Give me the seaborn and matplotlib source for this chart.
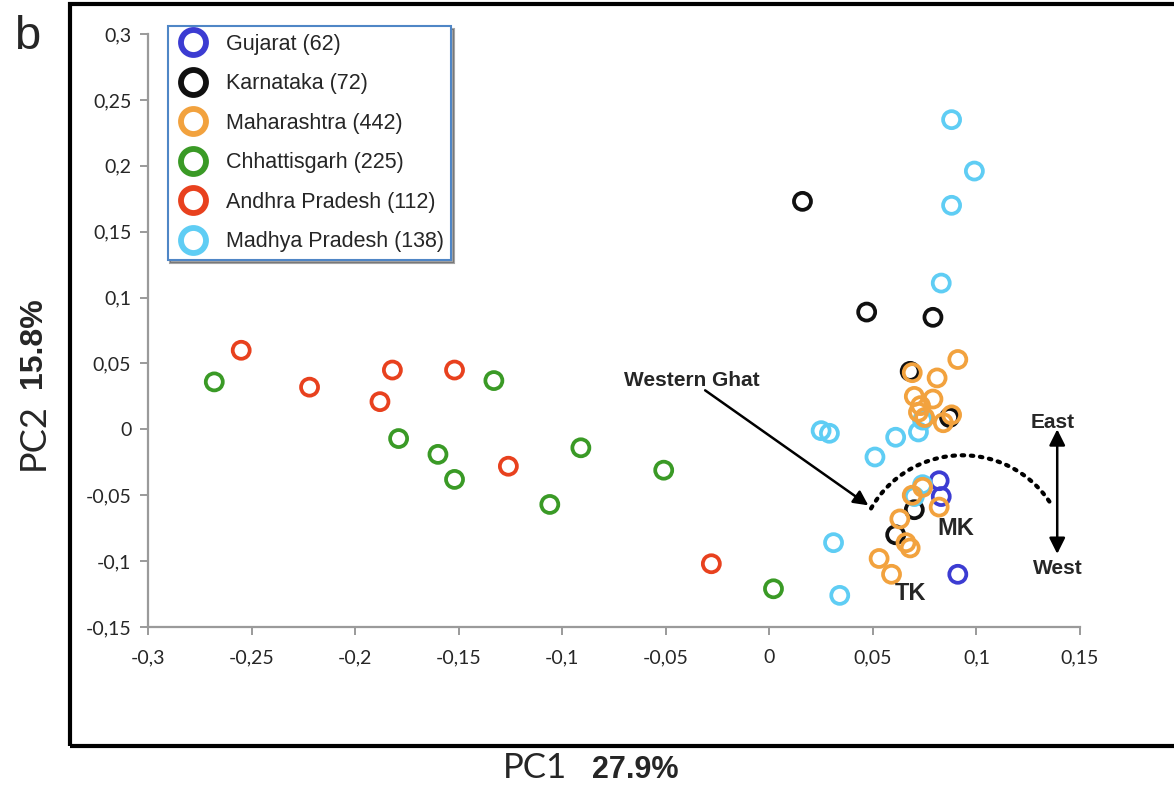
import numpy as np
import pandas as pd
import matplotlib
matplotlib.use("Agg")
import matplotlib.pyplot as plt
import seaborn as sns
from matplotlib.lines import Line2D
from matplotlib.patches import Rectangle
from matplotlib.ticker import FuncFormatter

# values (PC1, PC2 per state)
gujarat_pc1 = [0.082, 0.083, 0.091]
gujarat_pc2 = [-0.039, -0.051, -0.110]

karnataka_pc1 = [0.016, 0.047, 0.079, 0.068, 0.087, 0.070, 0.061]
karnataka_pc2 = [0.173, 0.089, 0.085, 0.044, 0.009, -0.061, -0.080]

madhya_pc1 = [0.088, 0.099, 0.088, 0.083, 0.025, 0.029, 0.061, 0.072, 0.051, 0.074, 0.070, 0.031, 0.034, 0.074]
madhya_pc2 = [0.235, 0.196, 0.170, 0.111, -0.001, -0.003, -0.006, -0.002, -0.021, -0.042, -0.051, -0.086, -0.126, 0.007]

chhattisgarh_pc1 = [-0.268, -0.133, -0.179, -0.160, -0.152, -0.091, -0.106, -0.051, 0.002]
chhattisgarh_pc2 = [0.036, 0.037, -0.007, -0.019, -0.038, -0.014, -0.057, -0.031, -0.121]

andhra_pc1 = [-0.255, -0.222, -0.182, -0.152, -0.188, -0.126, -0.028]
andhra_pc2 = [0.060, 0.032, 0.045, 0.045, 0.021, -0.028, -0.102]

maharashtra_pc1 = [0.091, 0.069, 0.081, 0.070, 0.079, 0.073, 0.072, 0.075, 0.088, 0.084,
                   0.074, 0.069, 0.082, 0.063, 0.066, 0.068, 0.053, 0.059]
maharashtra_pc2 = [0.053, 0.043, 0.039, 0.025, 0.023, 0.018, 0.013, 0.009, 0.011, 0.005,
                   -0.044, -0.050, -0.059, -0.068, -0.086, -0.090, -0.098, -0.110]

states = ["Gujarat", "Karnataka", "Maharashtra", "Chhattisgarh", "Andhra Pradesh", "Madhya Pradesh"]
counts = [62, 72, 442, 225, 112, 138]
colors = ["#3c3cd2", "#101010", "#f2a23e", "#3a9a26", "#e8411e", "#5fcdf4"]

# drawing order: later rows on top
parts = [("Gujarat", gujarat_pc1, gujarat_pc2),
         ("Karnataka", karnataka_pc1, karnataka_pc2),
         ("Madhya Pradesh", madhya_pc1, madhya_pc2),
         ("Chhattisgarh", chhattisgarh_pc1, chhattisgarh_pc2),
         ("Andhra Pradesh", andhra_pc1, andhra_pc2),
         ("Maharashtra", maharashtra_pc1, maharashtra_pc2)]
df = pd.concat([pd.DataFrame({"PC1": x, "PC2": y, "state": s}) for s, x, y in parts], ignore_index=True)

sns.set_style("white")
plt.rcParams["font.family"] = ["Liberation Sans", "DejaVu Sans"]

W, H = 1174, 785
fig = plt.figure(figsize=(W / 100, H / 100), dpi=100)
ax = fig.add_axes([148 / W, 1 - 627 / H, (1080 - 148) / W, (627 - 34) / H])

sns.scatterplot(data=df, x="PC1", y="PC2", hue="state", hue_order=states,
                palette=dict(zip(states, colors)), s=150, linewidth=2.7, legend=False, ax=ax)
coll = ax.collections[0]
coll.set_edgecolors(coll.get_facecolors().copy())
coll.set_facecolor("none")

ax.set_xlim(-0.3, 0.15)
ax.set_ylim(-0.15, 0.3)
ax.set_xticks(np.arange(-0.3, 0.151, 0.05))
ax.set_yticks(np.arange(-0.15, 0.301, 0.05))
fmt = FuncFormatter(lambda v, p: ("%g" % round(v, 3)).replace(".", ",") if abs(v) > 1e-9 else "0")
ax.xaxis.set_major_formatter(fmt)
ax.yaxis.set_major_formatter(fmt)
for s in ["top", "right"]:
    ax.spines[s].set_visible(False)
for s in ["left", "bottom"]:
    ax.spines[s].set_color("#9a9a9a")
    ax.spines[s].set_linewidth(1.6)
ax.tick_params(axis="both", which="major", direction="out", length=6, width=1.4, color="#9a9a9a",
               labelsize=14, left=True, bottom=True)
ax.tick_params(axis="x", pad=10)
ax.tick_params(axis="y", pad=6)
for lab in ax.get_xticklabels() + ax.get_yticklabels():
    lab.set_family(["Lato", "DejaVu Sans"])
ax.set_xlabel("")
ax.set_ylabel("")

# legend
handles = [Line2D([], [], marker="o", ls="", markerfacecolor="none", markeredgecolor=c,
                  markersize=18, markeredgewidth=4.2) for c in colors]
labels = ["%s (%d)" % (s, n) for s, n in zip(states, counts)]
leg = ax.legend(handles, labels, loc="upper left", bbox_to_anchor=(0.021, 1.013), borderaxespad=0,
                fontsize=15.5, frameon=True, fancybox=False, shadow=True, handlelength=1.63,
                handletextpad=0.72, labelspacing=0.86, borderpad=0.35)
leg.get_frame().set_edgecolor("#4f86c6")
leg.get_frame().set_linewidth(1.5)

# annotations
ax.text(-0.0372, 0.0372, "Western Ghat", fontsize=15, fontweight="bold", ha="center", va="center")
ax.annotate("", xy=(0.0478, -0.0577), xytext=(-0.031, 0.0296),
            arrowprops=dict(arrowstyle="-|>", lw=1.8, color="black", mutation_scale=22, shrinkA=0, shrinkB=0))
t = np.radians(np.linspace(34, 152, 60))
arc_cx, arc_cy, arc_rx, arc_ry = 0.0932, -0.0994, 0.0507, 0.0797
ax.plot(arc_cx + arc_rx * np.cos(t), arc_cy + arc_ry * np.sin(t), color="black", lw=3,
        ls=(0, (0.6, 1.6)), dash_capstyle="round")
ax.annotate("", xy=(0.139, 0.0), xytext=(0.139, -0.0945),
            arrowprops=dict(arrowstyle="<|-|>", lw=1.8, color="black", mutation_scale=24, shrinkA=0, shrinkB=0))
ax.text(0.1367, 0.0053, "East", fontsize=15, fontweight="bold", ha="center", va="center")
ax.text(0.1395, -0.1055, "West", fontsize=15, fontweight="bold", ha="center", va="center")
ax.text(0.0898, -0.0751, "MK", fontsize=17, fontweight="bold", ha="center", va="center")
ax.text(0.0681, -0.1244, "TK", fontsize=17, fontweight="bold", ha="center", va="center")

# outer frame and labels
fig.add_artist(Rectangle((70 / W, 1 - 746 / H), 1.05, (746 - 4) / H, transform=fig.transFigure,
                         fill=False, lw=3, edgecolor="black", clip_on=False))
fig.text(27 / W, 1 - 37 / H, "b", fontsize=34, ha="center", va="center")
fig.text(33 / W, 1 - 437 / H, "PC2", fontsize=26, rotation=90, ha="center", va="center", family=["Lato", "DejaVu Sans"])
fig.text(33 / W, 1 - 343 / H, "15.8%", fontsize=23, fontweight="bold", rotation=90, ha="center", va="center")
fig.text(535 / W, 1 - 768 / H, "PC1", fontsize=25, ha="center", va="center", family=["Lato", "DejaVu Sans"])
fig.text(635 / W, 1 - 770 / H, "27.9%", fontsize=22, fontweight="bold", ha="center", va="center")

fig.savefig("out.png", dpi=100)
